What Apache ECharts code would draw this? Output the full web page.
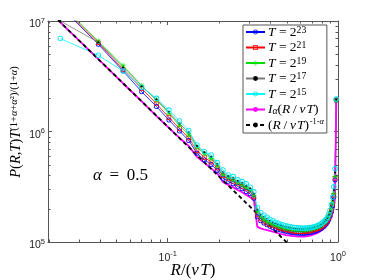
<!DOCTYPE html>
<html><head><meta charset="utf-8">
<script src="https://cdn.jsdelivr.net/npm/echarts@6/dist/echarts.min.js"></script>
<style>html,body{margin:0;padding:0;background:#fff}#c{width:374px;height:280px}</style>
</head><body><div id="c"></div>
<script>
// bin centres R/(vT)
const xBins = [0.0234,0.0391,0.0547,0.0703,0.0859,0.1016,0.1172,0.1328,0.1484,0.1641,
0.1797,0.1953,0.2109,0.2266,0.2422,0.2578,0.2734,0.2891,0.3047,0.3203,
0.3359,0.3516,0.3672,0.3828,0.3984,0.4141,0.4297,0.4453,0.4609,0.4766,
0.4922,0.5078,0.5234,0.5391,0.5547,0.5703,0.5859,0.6016,0.6172,0.6328,
0.6484,0.6641,0.6797,0.6953,0.7109,0.7266,0.7422,0.7578,0.7734,0.7891,
0.8047,0.8203,0.8359,0.8516,0.8672,0.8828,0.8984,0.9141,0.9297,0.9453,
0.9609,0.9766];
const pT23 = [1.36e7,6.16e6,3.52e6,2.29e6,1.68e6,1.27e6,1.01e6,8.29e5,6.36e5,5.53e5,
5.04e5,4.45e5,3.78e5,3.54e5,3.36e5,3.19e5,3.03e5,2.87e5,2.73e5,2.49e5,
1.69e5,1.56e5,1.484e5,1.433e5,1.389e5,1.354e5,1.327e5,1.305e5,1.283e5,1.265e5,
1.249e5,1.236e5,1.226e5,1.218e5,1.21e5,1.205e5,1.203e5,1.2e5,1.2e5,1.203e5,
1.205e5,1.21e5,1.218e5,1.226e5,1.236e5,1.249e5,1.262e5,1.278e5,1.297e5,1.318e5,
1.346e5,1.377e5,1.415e5,1.457e5,1.515e5,1.596e5,1.71e5,1.878e5,2.126e5,2.56e5,
3.65e5,1.925e6];
const pT21 = [1.39e7,6.36e6,3.63e6,2.45e6,1.78e6,1.34e6,1.065e6,8.74e5,6.71e5,5.83e5,
5.31e5,4.68e5,3.98e5,3.73e5,3.54e5,3.36e5,3.19e5,3.03e5,2.90e5,2.56e5,
1.76e5,1.616e5,1.538e5,1.481e5,1.436e5,1.40e5,1.372e5,1.349e5,1.327e5,1.308e5,
1.292e5,1.278e5,1.268e5,1.259e5,1.251e5,1.246e5,1.244e5,1.241e5,1.241e5,1.244e5,
1.246e5,1.251e5,1.259e5,1.268e5,1.278e5,1.292e5,1.305e5,1.321e5,1.34e5,1.363e5,
1.392e5,1.424e5,1.463e5,1.506e5,1.566e5,1.65e5,1.77e5,1.94e5,2.20e5,2.65e5,
3.77e5,1.925e6];
const pT19 = [1.42e7,6.56e6,3.94e6,2.60e6,1.925e6,1.46e6,1.133e6,9.30e5,7.20e5,6.27e5,
5.71e5,4.88e5,4.09e5,3.82e5,3.63e5,3.44e5,3.27e5,3.12e5,2.96e5,2.645e5,
1.878e5,1.69e5,1.60e5,1.535e5,1.484e5,1.445e5,1.415e5,1.389e5,1.366e5,1.346e5,
1.33e5,1.316e5,1.305e5,1.297e5,1.289e5,1.283e5,1.281e5,1.278e5,1.278e5,1.281e5,
1.283e5,1.289e5,1.297e5,1.305e5,1.316e5,1.33e5,1.343e5,1.36e5,1.38e5,1.403e5,
1.433e5,1.466e5,1.506e5,1.554e5,1.616e5,1.703e5,1.828e5,2.006e5,2.277e5,2.757e5,
3.925e5,1.925e6];
const pT17 = [1.00e7,6.42e6,3.79e6,2.57e6,1.945e6,1.50e6,1.18e6,9.79e5,7.40e5,6.49e5,
5.89e5,5.04e5,4.265e5,3.925e5,3.765e5,3.55e5,3.39e5,3.22e5,3.045e5,2.73e5,
1.957e5,1.764e5,1.671e5,1.603e5,1.544e5,1.50e5,1.463e5,1.433e5,1.406e5,1.386e5,
1.366e5,1.351e5,1.34e5,1.33e5,1.321e5,1.316e5,1.311e5,1.308e5,1.308e5,1.308e5,
1.311e5,1.316e5,1.321e5,1.33e5,1.337e5,1.351e5,1.366e5,1.38e5,1.403e5,1.424e5,
1.454e5,1.49e5,1.532e5,1.58e5,1.647e5,1.742e5,1.878e5,2.083e5,2.41e5,2.96e5,
4.265e5,1.945e6];
const pT15 = [6.94e6,4.90e6,3.52e6,2.52e6,1.995e6,1.563e6,1.244e6,1.021e6,7.55e5,6.57e5,
6.14e5,5.23e5,4.49e5,4.05e5,3.91e5,3.65e5,3.52e5,3.36e5,3.135e5,2.845e5,
2.04e5,1.84e5,1.746e5,1.675e5,1.606e5,1.557e5,1.509e5,1.478e5,1.448e5,1.424e5,
1.403e5,1.389e5,1.375e5,1.363e5,1.354e5,1.346e5,1.34e5,1.337e5,1.335e5,1.335e5,
1.337e5,1.34e5,1.346e5,1.351e5,1.36e5,1.375e5,1.389e5,1.403e5,1.427e5,1.448e5,
1.478e5,1.515e5,1.557e5,1.606e5,1.675e5,1.782e5,1.937e5,2.17e5,2.537e5,3.155e5,
4.59e5,1.965e6];
const iAlpha = [9.73e6,4.51e6,2.72e6,1.87e6,1.38e6,1.08e6,8.74e5,7.40e5,5.89e5,5.20e5,
4.64e5,4.18e5,3.50e5,3.29e5,3.12e5,2.96e5,2.82e5,2.67e5,2.54e5,2.41e5,
1.37e5,1.33e5,1.30e5,1.28e5,1.26e5,1.24e5,1.22e5,1.20e5,1.18e5,1.17e5,
1.156e5,1.147e5,1.14e5,1.133e5,1.128e5,1.123e5,1.121e5,1.119e5,1.119e5,1.121e5,
1.126e5,1.133e5,1.14e5,1.149e5,1.161e5,1.176e5,1.188e5,1.205e5,1.226e5,1.249e5,
1.278e5,1.31e5,1.346e5,1.389e5,1.448e5,1.509e5,1.59e5,1.69e5,1.84e5,2.04e5,
2.51e5,1.81e6];
const powerLawX = [0.0198, 0.55];
const powerLawY = [1.25e7, 8.6e4];
const xMin = 0.0198, xMax = 1, yMin = 1e5, yMax = 1e7;
const xMinorTicks = [0.02,0.03,0.04,0.05,0.06,0.07,0.08,0.09,0.2,0.3,0.4,0.5,0.6,0.7,0.8,0.9];
const yMinorTicks = [2e5,3e5,4e5,5e5,6e5,7e5,8e5,9e5,2e6,3e6,4e6,5e6,6e6,7e6,8e6,9e6];
const legendLabels = {
  T23: '{it|T}{rm| = 2}{sup|23}',
  T21: '{it|T}{rm| = 2}{sup|21}',
  T19: '{it|T}{rm| = 2}{sup|19}',
  T17: '{it|T}{rm| = 2}{sup|17}',
  T15: '{it|T}{rm| = 2}{sup|15}',
  Ia:  '{it|I}{sub|α}{rm|(}{it|R}{rm|\u2009/\u2009}{it|v\u200aT}{rm|)}',
  PL:  '{rm|(}{it|R}{rm|\u2009/\u2009}{it|v\u200aT}{rm|)}{sups|\u200a-1-}{supsi|α}'
};

const axisColor = '#555';
const serif = 'Liberation Serif';
const ring = 'path://M10 0A10 10 0 1 1 10 20A10 10 0 1 1 10 0ZM10 3A7 7 0 1 0 10 17A7 7 0 1 0 10 3Z';
const sqRing = 'path://M0 0H20V20H0ZM3 3V17H17V3Z';
const star = 'path://M0 9H20V11H0ZM9 0H11V20H9ZM3.6 2.2L17.8 16.4L16.4 17.8L2.2 3.6ZM16.4 2.2L17.8 3.6L3.6 17.8L2.2 16.4Z';

function pairs(xs, ys) { return xs.map((x, i) => [x, ys[i]]); }
function dataSeries(name, ys, color, symbol, size, lineColor) {
  return {
    name, type: 'line', data: pairs(xBins, ys), clip: true,
    symbol, symbolSize: size, showSymbol: true, showAllSymbol: true,
    lineStyle: { color: lineColor || color, width: 0.8 },
    itemStyle: { color },
    emphasis: { disabled: true }, silent: true
  };
}
function powLabel(v) {
  const l = Math.log10(v), e = Math.round(l);
  if (Math.abs(l - e) > 1e-6) return '';
  return '{b|10}{s|' + (e < 0 ? '-' + (-e) : e) + '}';
}
const tickRich = {
  b: { fontFamily: 'Liberation Sans', fontSize: 10.5, lineHeight: 16, color: '#222' },
  s: { fontFamily: 'Liberation Sans', fontSize: 7.5, lineHeight: 8, verticalAlign: 'top', color: '#222' }
};
function xAx(pos, show) {
  return {
    type: 'log', logBase: 10, min: xMin, max: xMax, position: pos,
    axisLine: { show: true, onZero: false, lineStyle: { color: axisColor, width: 1 } },
    axisTick: { show: true, inside: true, length: 4, lineStyle: { color: axisColor } },
    axisLabel: { show: show, formatter: powLabel, margin: 8, rich: tickRich, showMinLabel: false },
    splitLine: { show: false }
  };
}
function yAx(pos, show) {
  return {
    type: 'log', logBase: 10, min: yMin, max: yMax, position: pos,
    axisLine: { show: true, onZero: false, lineStyle: { color: axisColor, width: 1 } },
    axisTick: { show: true, inside: true, length: 4, lineStyle: { color: axisColor } },
    axisLabel: { show: show, formatter: powLabel, margin: 3, rich: tickRich, padding: [7, 0, 0, 0] },
    splitLine: { show: false }
  };
}
const textRich = (fs) => ({
  it: { fontFamily: serif, fontStyle: 'italic', fontSize: fs, lineHeight: fs, color: '#000' },
  rm: { fontFamily: serif, fontSize: fs, lineHeight: fs, color: '#000' },
  sup: { fontFamily: serif, fontSize: fs * 0.72, lineHeight: fs * 0.42, verticalAlign: 'top', color: '#000' },
  supi: { fontFamily: serif, fontStyle: 'italic', fontSize: fs * 0.72, lineHeight: fs * 0.42, verticalAlign: 'top', color: '#000' },
  sups: { fontFamily: serif, fontSize: fs * 0.62, lineHeight: fs * 0.42, verticalAlign: 'top', color: '#000' },
  supsi: { fontFamily: serif, fontStyle: 'italic', fontSize: fs * 0.62, lineHeight: fs * 0.42, verticalAlign: 'top', color: '#000' },
  sub: { fontFamily: serif, fontStyle: 'italic', fontSize: fs * 0.72, lineHeight: fs * 0.42, verticalAlign: 'bottom', color: '#000' }
});

const chart = echarts.init(document.getElementById('c'), null, { renderer: 'canvas' });
chart.setOption({
  animation: false,
  backgroundColor: '#fff',
  textStyle: { fontFamily: 'Liberation Sans' },
  grid: { left: 48, top: 21, width: 290, height: 221, containLabel: false },
  xAxis: [xAx('bottom', true), xAx('top', false)],
  yAxis: [yAx('left', true), yAx('right', false)],
  legend: {
    orient: 'vertical', left: 243, top: 25, itemWidth: 19, itemHeight: 6, itemGap: 1.5,
    padding: [0, 3, 1, 2], backgroundColor: '#fff', borderColor: axisColor, borderWidth: 1,
    selectedMode: false, data: ['T23', 'T21', 'T19', 'T17', 'T15', 'Ia', 'PL'],
    formatter: n => legendLabels[n],
    textStyle: { rich: textRich(13.5), padding: [0, 0, 0, -2] }
  },
  series: [
    dataSeries('T23', pT23, '#0000ff', ring, 5),
    dataSeries('T21', pT21, '#ff0000', sqRing, 4.5),
    dataSeries('T19', pT19, '#00e000', star, 5.5),
    dataSeries('T17', pT17, '#000000', 'circle', 2.2, '#7a7a7a'),
    dataSeries('T15', pT15, '#00e5ee', ring, 5.5, '#00ffff'),
    { name: 'Ia', type: 'line', data: pairs(xBins, iAlpha), symbol: 'none', clip: true, silent: true,
      lineStyle: { color: '#ff00ff', width: 1.8 }, itemStyle: { color: '#ff00ff' } },
    { name: 'PL', type: 'line', data: pairs(powerLawX, powerLawY), symbol: 'none', clip: true, silent: true,
      lineStyle: { color: '#000', width: 1.8, type: [4, 3] }, itemStyle: { color: '#000' } },
    { type: 'custom', silent: true, data: xMinorTicks.map(v => [v, yMin]), z: 5,
      renderItem(params, api) {
        const cs = params.coordSys;
        const x = Math.round(api.coord([api.value(0), yMin])[0]) + 0.5;
        const yb = cs.y + cs.height, yt = cs.y;
        return { type: 'group', children: [
          { type: 'line', shape: { x1: x, y1: yb, x2: x, y2: yb - 2.5 }, style: { stroke: axisColor, lineWidth: 1 } },
          { type: 'line', shape: { x1: x, y1: yt, x2: x, y2: yt + 2.5 }, style: { stroke: axisColor, lineWidth: 1 } }
        ] };
      } },
    { type: 'custom', silent: true, data: yMinorTicks.map(v => [xMin, v]), z: 5,
      renderItem(params, api) {
        const cs = params.coordSys;
        const y = Math.round(api.coord([xMin, api.value(1)])[1]) + 0.5;
        const xl = cs.x, xr = cs.x + cs.width;
        return { type: 'group', children: [
          { type: 'line', shape: { x1: xl, y1: y, x2: xl + 2.5, y2: y }, style: { stroke: axisColor, lineWidth: 1 } },
          { type: 'line', shape: { x1: xr, y1: y, x2: xr - 2.5, y2: y }, style: { stroke: axisColor, lineWidth: 1 } }
        ] };
      } }
  ],
  graphic: [
    { type: 'text', x: 193, y: 271, silent: true,
      style: { text: '{it|R}{rm|/(}{it|v\u200aT}{rm|)}', rich: textRich(17), align: 'center', verticalAlign: 'middle' } },
    { type: 'text', x: 16, y: 122, rotation: Math.PI / 2, silent: true,
      style: { text: '{it|P}{rm|(}{it|R}{rm|,}{it|T}{rm|)}{it|T}{sup|(1+}{supi|α}{sup|+}{supi|α}{sup|²)/(1+}{supi|α}{sup|)}',
               rich: textRich(14.5), align: 'center', verticalAlign: 'middle' } },
    { type: 'text', x: 93, y: 176, silent: true,
      style: { text: '{it|α}{rm| \u2009=\u2009 0.5}', rich: textRich(17), align: 'left', verticalAlign: 'middle' } }
  ]
});
</script></body></html>
